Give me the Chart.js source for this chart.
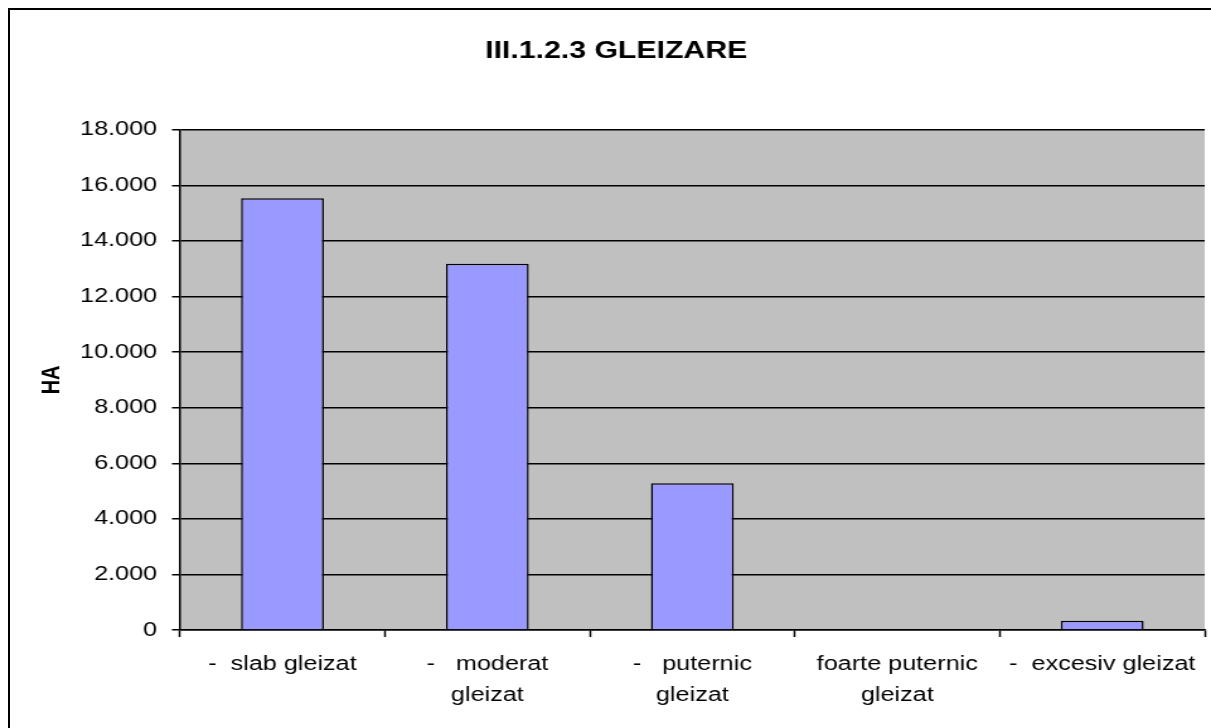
<!DOCTYPE html>
<html lang="ro">
<head>
    <meta charset="UTF-8">
    <title>III.1.2.3 GLEIZARE</title>
    <script src="https://cdn.jsdelivr.net/npm/chart.js"></script>
    <style>
        html, body { margin: 0; padding: 0; background: #fff; overflow: hidden; }
        .frame {
            position: absolute; left: 8px; top: 8px;
            width: 1300px; height: 800px;
            border: 2px solid #000;
        }
    </style>
</head>
<body>
    <div class="frame"></div>
    <!-- the chart is drawn narrower and stretched, like the original picture -->
    <canvas id="chart" width="961" height="728"
            style="position:absolute;left:0;top:0;width:1211px;height:728px"></canvas>

    <script>
        // data
        const categories = [
            ['-  slab gleizat'],
            ['-   moderat', 'gleizat'],
            ['-   puternic', 'gleizat'],
            ['foarte puternic', 'gleizat'],
            ['-  excesiv gleizat']
        ];
        const hectares = [15540, 13180, 5280, 0, 330];
        const yTicks = [0, 2000, 4000, 6000, 8000, 10000, 12000, 14000, 16000, 18000];

        const font = "'Liberation Sans', Arial, sans-serif";

        // grey plot area background
        const plotBackground = {
            id: 'plotBackground',
            beforeDraw(chart) {
                const { ctx, chartArea: a } = chart;
                ctx.save();
                ctx.fillStyle = '#C0C0C0';
                ctx.fillRect(a.left, a.top, a.right - a.left, a.bottom - a.top);
                ctx.restore();
            }
        };

        const fmt = v => String(v).replace(/\B(?=(\d{3})+(?!\d))/g, '.');

        new Chart(document.getElementById('chart'), {
            type: 'bar',
            data: {
                labels: categories,
                datasets: [{
                    data: hectares,
                    backgroundColor: '#9999FF',
                    borderColor: '#000',
                    borderWidth: 1.5,
                    borderSkipped: 'bottom',
                    barPercentage: 1,
                    categoryPercentage: 0.404
                }]
            },
            options: {
                responsive: false,
                devicePixelRatio: 1,
                animation: false,
                layout: { padding: { left: 21, right: 4, top: 0, bottom: 0 } },
                plugins: {
                    legend: { display: false },
                    tooltip: { enabled: false },
                    title: {
                        display: true,
                        text: 'III.1.2.3 GLEIZARE',
                        color: '#000',
                        font: { family: font, size: 24, weight: 'bold' },
                        padding: { top: 37, bottom: 64 }
                    }
                },
                scales: {
                    x: {
                        afterFit: s => { s.height = 98; },
                        grid: {
                            display: true,
                            drawOnChartArea: false,
                            drawTicks: true,
                            tickLength: 7,
                            tickColor: '#000',
                            tickWidth: 1.5,
                            offset: true
                        },
                        border: { display: true, color: '#000', width: 1.5 },
                        ticks: {
                            color: '#000',
                            padding: 12,
                            maxRotation: 0,
                            autoSkip: false,
                            font: { family: font, size: 20, lineHeight: 1.55 }
                        }
                    },
                    y: {
                        min: 0,
                        max: 18000,
                        afterFit: s => { s.width = 121.8; },
                        afterBuildTicks: s => { s.ticks = yTicks.map(v => ({ value: v })); },
                        grid: {
                            color: '#000',
                            lineWidth: 1.5,
                            tickLength: 6.3,
                            tickColor: '#000',
                            tickWidth: 1.5
                        },
                        border: { display: true, color: '#000', width: 1.5 },
                        ticks: {
                            color: '#000',
                            padding: 11.8,
                            callback: v => fmt(v),
                            font: { family: font, size: 20 }
                        },
                        title: {
                            display: true,
                            text: 'HA',
                            color: '#000',
                            padding: { top: 8, bottom: 0 },
                            font: { family: font, size: 20, weight: 'bold' }
                        }
                    }
                }
            },
            plugins: [plotBackground]
        });
    </script>
</body>
</html>
